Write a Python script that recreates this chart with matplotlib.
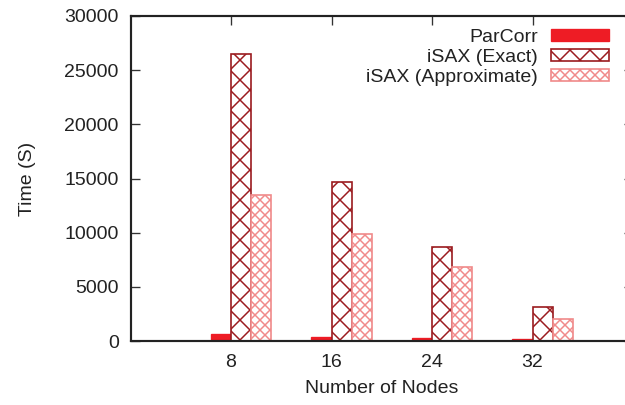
import matplotlib
matplotlib.use("Agg")
import matplotlib.pyplot as plt
import numpy as np

nodes = ["8", "16", "24", "32"]
parcorr = [650, 400, 250, 150]
isax_exact = [26500, 14700, 8650, 3100]
isax_approx = [13450, 9850, 6850, 2000]

plt.rcParams['font.family'] = ['Liberation Sans', 'DejaVu Sans']
plt.rcParams['hatch.linewidth'] = 0.9

DPI = 120
fig = plt.figure(figsize=(625 / DPI, 405 / DPI), dpi=DPI)
W, H = 625, 405
left, right, top, bottom = 130.5, 633.0, 16.0, 341.0
ax = fig.add_axes([left / W, (H - bottom) / H, (right - left) / W, (bottom - top) / H])

x = np.arange(len(nodes))
bw = 0.2
c_par = "#ee1c25"
c_exact = "#9b1b1f"
c_approx = "#f08a8a"

ax.bar(x - bw / 2, parcorr, bw, color=c_par, edgecolor=c_par, linewidth=0.8, label="ParCorr")
ax.bar(x + bw / 2, isax_exact, bw, facecolor="white", edgecolor=c_exact, hatch="xx",
       linewidth=1.0, label="iSAX (Exact)")
ax.bar(x + 3 * bw / 2, isax_approx, bw, facecolor="white", edgecolor=c_approx, hatch="xxxx",
       linewidth=1.0, label="iSAX (Approximate)")

ax.set_xlim(-1, 4)
ax.set_ylim(0, 30000)
ax.set_xticks(x)
ax.set_xticklabels(nodes)
ax.set_yticks(np.arange(0, 30001, 5000))

txt = "#222222"
ax.tick_params(axis='x', direction='in', bottom=False, top=True, length=5.4, width=0.8,
               labelsize=11.7, labelcolor=txt, pad=8, color="#333333")
ax.tick_params(axis='y', direction='in', left=True, right=True, length=5.4, width=0.8,
               labelsize=11.7, labelcolor=txt, pad=7, color="#333333")
for s in ax.spines.values():
    s.set_linewidth(1.3)
    s.set_color("#222222")

ax.set_xlabel("Number of Nodes", fontsize=11.7, color=txt, labelpad=5)
ax.set_ylabel("Time (S)", fontsize=11.7, color=txt, labelpad=17)

leg = ax.legend(loc="upper right", bbox_to_anchor=(609 / W, (H - 29) / H),
                bbox_transform=fig.transFigure, frameon=False, markerfirst=False,
                fontsize=11.7, handlelength=3.0, handleheight=0.56,
                handletextpad=0.65, labelspacing=0.15, borderpad=0, borderaxespad=0)
for t in leg.get_texts():
    t.set_color(txt)

fig.savefig("out.png", dpi=DPI)
